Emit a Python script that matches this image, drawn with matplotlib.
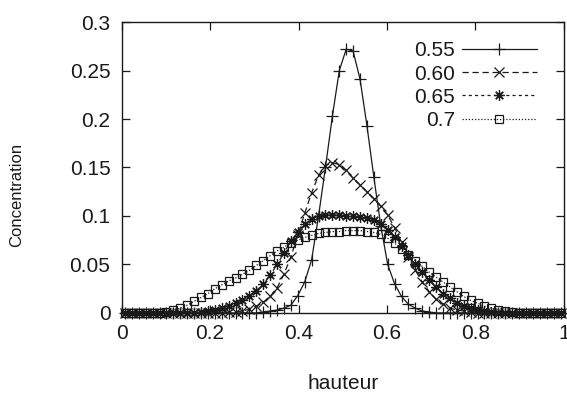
import matplotlib
matplotlib.use("Agg")
import matplotlib.pyplot as plt

plt.rcParams["font.family"] = ["Liberation Sans", "DejaVu Sans"]

# cell centres of the 64-point grid
hauteur = [0.0078, 0.0234, 0.0391, 0.0547, 0.0703, 0.0859, 0.1016, 0.1172,
           0.1328, 0.1484, 0.1641, 0.1797, 0.1953, 0.2109, 0.2266, 0.2422,
           0.2578, 0.2734, 0.2891, 0.3047, 0.3203, 0.3359, 0.3516, 0.3672,
           0.3828, 0.3984, 0.4141, 0.4297, 0.4453, 0.4609, 0.4766, 0.4922,
           0.5078, 0.5234, 0.5391, 0.5547, 0.5703, 0.5859, 0.6016, 0.6172,
           0.6328, 0.6484, 0.6641, 0.6797, 0.6953, 0.7109, 0.7266, 0.7422,
           0.7578, 0.7734, 0.7891, 0.8047, 0.8203, 0.8359, 0.8516, 0.8672,
           0.8828, 0.8984, 0.9141, 0.9297, 0.9453, 0.9609, 0.9766, 0.9922]

conc_055 = [0, 0, 0, 0, 0, 0, 0, 0, 0, 0, 0, 0, 0, 0, 0, 0,
            0, 0, 0, 0, 0.001, 0.002, 0.003, 0.005,
            0.008, 0.018, 0.032, 0.055, 0.100, 0.150, 0.203, 0.250,
            0.272, 0.270, 0.241, 0.193, 0.140, 0.090, 0.050, 0.030,
            0.017, 0.009, 0.005, 0.002, 0.001, 0, 0, 0,
            0, 0, 0, 0, 0, 0, 0, 0, 0, 0, 0, 0, 0, 0, 0, 0]

conc_060 = [0, 0, 0, 0, 0, 0, 0, 0, 0, 0, 0, 0, 0, 0, 0, 0.001,
            0.001, 0.002, 0.004, 0.007, 0.011, 0.017, 0.026, 0.040,
            0.058, 0.080, 0.103, 0.124, 0.142, 0.152, 0.155, 0.153,
            0.147, 0.139, 0.132, 0.125, 0.118, 0.110, 0.101, 0.088,
            0.073, 0.058, 0.044, 0.032, 0.022, 0.014, 0.009, 0.005,
            0.003, 0.002, 0.001, 0, 0, 0, 0, 0, 0, 0, 0, 0, 0, 0, 0, 0]

conc_065 = [0, 0, 0, 0, 0, 0, 0, 0, 0, 0, 0, 0.001, 0.002, 0.003, 0.005, 0.007,
            0.010, 0.013, 0.018, 0.023, 0.030, 0.039, 0.050, 0.062,
            0.074, 0.084, 0.092, 0.097, 0.100, 0.101, 0.101, 0.101,
            0.100, 0.100, 0.099, 0.098, 0.096, 0.092, 0.086, 0.078,
            0.069, 0.060, 0.051, 0.042, 0.034, 0.027, 0.020, 0.015,
            0.010, 0.007, 0.005, 0.003, 0.002, 0.001, 0, 0,
            0, 0, 0, 0, 0, 0, 0, 0]

conc_070 = [0, 0, 0, 0, 0, 0, 0.001, 0.003, 0.005, 0.008, 0.012, 0.016, 0.020, 0.025, 0.029, 0.033,
            0.036, 0.040, 0.044, 0.049, 0.054, 0.059, 0.064, 0.068,
            0.072, 0.075, 0.078, 0.080, 0.082, 0.083, 0.084, 0.084,
            0.085, 0.085, 0.085, 0.084, 0.083, 0.081, 0.077, 0.072,
            0.066, 0.060, 0.054, 0.048, 0.042, 0.037, 0.032, 0.027,
            0.022, 0.017, 0.013, 0.010, 0.007, 0.005, 0.003, 0.002,
            0.001, 0, 0, 0, 0, 0, 0, 0]

labels = ["0.55", "0.60", "0.65", "0.7"]
series = [conc_055, conc_060, conc_065, conc_070]

xticks = [0, 0.2, 0.4, 0.6, 0.8, 1]
xticklabels = ["0", "0.2", "0.4", "0.6", "0.8", "1"]
yticks = [0, 0.05, 0.1, 0.15, 0.2, 0.25, 0.3]
yticklabels = ["0", "0.05", "0.1", "0.15", "0.2", "0.25", "0.3"]

styles = [
    dict(ls="-", marker="+", ms=9),
    dict(ls=(0, (5, 3)), marker="x", ms=6.5),
    dict(ls=(0, (2.5, 2.5)), marker=(8, 2, 0), ms=7.5),
    dict(ls=(0, (1, 1.5)), marker="s", ms=5.5, mfc="none"),
]

ink = "#1a1a1a"

fig = plt.figure(figsize=(5.67, 3.98), dpi=100)
ax = fig.add_axes([0.2143, 0.2136, 0.7804, 0.7311])

for y, st in zip(series, styles):
    ax.plot(hauteur, y, color=ink, lw=0.9, mew=0.9, clip_on=False, **st)

ax.set_xlim(0, 1)
ax.set_ylim(0, 0.3)
ax.set_xticks(xticks, xticklabels)
ax.set_yticks(yticks, yticklabels)
ax.tick_params(direction="in", top=True, right=True, length=6, width=0.9,
               labelsize=15, colors=ink, pad=8)
for sp in ax.spines.values():
    sp.set_linewidth(1.0)
    sp.set_color(ink)

ax.set_xlabel("hauteur", fontsize=15, color=ink)
ax.xaxis.set_label_coords(0.5, -0.21)
ax.set_ylabel("Concentration", fontsize=12, color=ink)
ax.yaxis.set_label_coords(-0.22, 0.405)

# gnuplot-style key: right-aligned labels, sample line with one marker
for k, (lab, st) in enumerate(zip(labels, styles)):
    ky = 0.908 - k * 0.08
    ax.text(0.754, ky, lab, transform=ax.transAxes, ha="right",
            va="center_baseline", fontsize=15, color=ink)
    ax.plot([0.769, 0.939], [ky, ky], transform=ax.transAxes, color=ink,
            lw=0.9, ls=st["ls"])
    ax.plot([0.854], [ky], transform=ax.transAxes, color=ink, ls="none",
            mew=0.9, marker=st["marker"], ms=st["ms"], mfc=st.get("mfc", ink))

fig.savefig("out.png", dpi=100)
